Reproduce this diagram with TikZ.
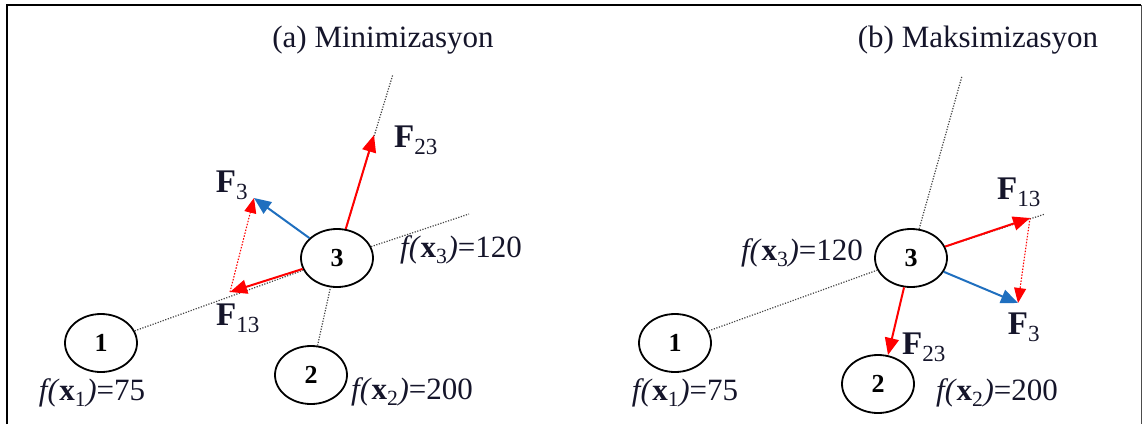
\documentclass[tikz,border=0pt]{standalone}
\usepackage{fontspec}
\setmainfont{Liberation Serif}
\usetikzlibrary{arrows.meta,shapes.geometric,positioning}
\definecolor{FRed}{RGB}{255,0,0}
\definecolor{FBlue}{HTML}{1F6FBF}
\definecolor{Ink}{HTML}{15152A}
\definecolor{LGray}{HTML}{444444}
\newcommand{\Fv}[1]{\textbf{F}\textsubscript{#1}}
\newcommand{\fval}[2]{\textit{f(}\textbf{x}\textsubscript{#1}\textit{)}=#2}
\tikzset{
    agent/.style={ellipse, draw=black, line width=1.8pt, fill=white,
        minimum width=72pt, minimum height=58pt, inner sep=0pt,
        font=\fontsize{26}{26}\selectfont\bfseries},
    force/.style={line width=2pt, -{Triangle[length=17pt, width=14pt]}},
    resultant/.style={FRed, line width=1.1pt, dash pattern=on 1.5pt off 1.5pt,
        -{Triangle[length=15pt, width=12pt]}},
    guide/.style={LGray, line width=1.2pt, dash pattern=on 1.2pt off 1.5pt},
    lab/.style={text=Ink, font=\fontsize{31}{34}\selectfont, inner sep=0pt},
    flab/.style={lab, font=\fontsize{33}{36}\selectfont},
}
\newcommand{\Canvas}{
\useasboundingbox (0,0) rectangle (1144,424);
\draw[line width=2.5pt] (7,424) -- (7,5) -- (1141,5);
\draw[line width=1pt, black!70] (1141,5) -- (1141,424);
}

\begin{document}
\begin{tikzpicture}[x=1pt, y=-1pt]
\Canvas

% (a) minimization
\begin{scope}[name prefix=A-]
    \node[agent] (n1) at (101,343) {1};
    \node[agent] (n2) at (311,375) {2};
    \node[agent] (n3) at (337,258) {3};
    \coordinate (tip13) at (230,292);
    \coordinate (tip23) at (374,135);
    \coordinate (tip3) at (254,198);
    \coordinate (far13) at (469,214);
    \coordinate (far23) at (393,74);

    \draw[guide] (n1) -- (n3);
    \draw[guide] (n3) -- (far13);
    \draw[guide] (n2) -- (n3);
    \draw[guide] (n3) -- (far23);

    \draw[force, FRed] (n3) -- (tip13);
    \draw[force, FRed] (n3) -- (tip23);
    \draw[resultant] (tip13) -- (tip3);
    \draw[force, FBlue] (n3) -- (tip3);

    \node[lab] (title) at (383,40) {(a) Minimizasyon};
    \node[flab] (l23) at (416,140) {\Fv{23}};
    \node[flab] (l3) at (232,185) {\Fv{3}};
    \node[flab] (l13) at (238,318) {\Fv{13}};
    \node[lab, anchor=west] (v3) at (400,250) {\fval{3}{120}};
    \node[lab] (v1) at (92,393) {\fval{1}{75}};
    \node[lab] (v2) at (412,392) {\fval{2}{200}};
\end{scope}

% (b) maximization
\begin{scope}[name prefix=B-]
    \node[agent] (n1) at (675,343) {1};
    \node[agent] (n2) at (878,384) {2};
    \node[agent] (n3) at (911,258) {3};
    \coordinate (tip13) at (1030,218);
    \coordinate (tip23) at (888,355);
    \coordinate (tip3) at (1018,303);
    \coordinate (far13) at (1045,214);
    \coordinate (far23) at (962,76);

    \draw[guide] (n1) -- (n3);
    \draw[guide] (n3) -- (far13);
    \draw[guide] (n3) -- (far23);

    \draw[force, FRed] (n3) -- (tip13);
    \draw[force, FRed] (n3) -- (tip23);
    \draw[force, FBlue] (n3) -- (tip3);
    \draw[resultant] (tip13) -- (tip3);

    \node[lab] (title) at (978,40) {(b) Maksimizasyon};
    \node[flab] (l13) at (1019,192) {\Fv{13}};
    \node[flab] (l3) at (1024,327) {\Fv{3}};
    \node[flab] (l23) at (924,347) {\Fv{23}};
    \node[lab, anchor=east] (v3) at (863,253) {\fval{3}{120}};
    \node[lab] (v1) at (685,393) {\fval{1}{75}};
    \node[lab] (v2) at (997,393) {\fval{2}{200}};
\end{scope}
\end{tikzpicture}
\end{document}
